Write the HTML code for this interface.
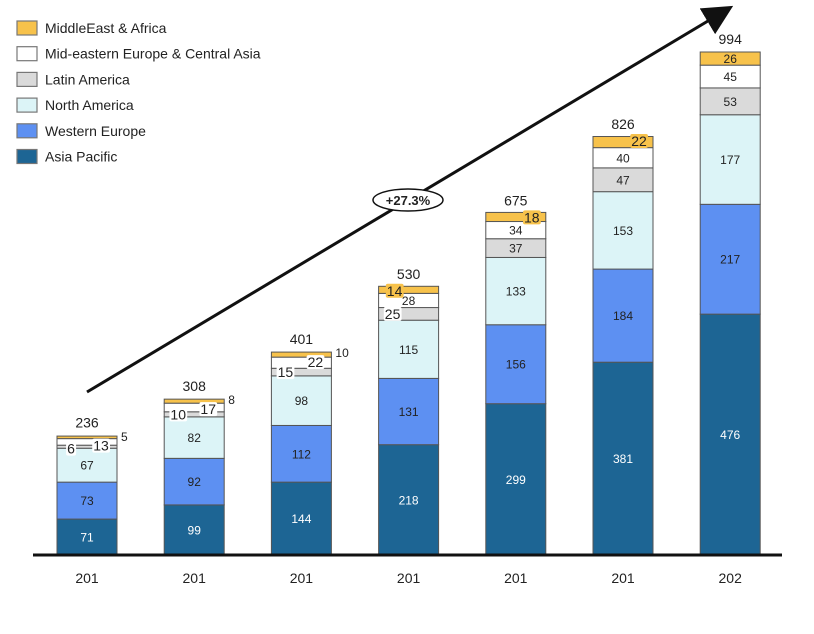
<!DOCTYPE html>
<html><head><meta charset="utf-8"><style>
body{margin:0;background:#fff;}
svg{display:block;font-family:"Liberation Sans",Arial,sans-serif;}
</style></head><body>
<svg id="chart" width="814" height="634" viewBox="0 0 814 634">
<defs><marker id="ah" markerWidth="10" markerHeight="10" refX="8" refY="5" orient="auto"><path d="M0,0 L10,5 L0,10 z" fill="#111"/></marker></defs>
<g id="legend"></g>
<line x1="87" y1="392" x2="728" y2="9" stroke="#111" stroke-width="3" marker-end="url(#ah)"/>
<g>
<ellipse cx="408" cy="200" rx="35" ry="11" fill="#fff" stroke="#111" stroke-width="1.5"/>
<text x="408" y="205" text-anchor="middle" font-size="13" font-weight="bold" fill="#222">+27.3%</text>
</g>
<g id="bars"></g>
<line x1="33" y1="555" x2="782" y2="555" stroke="#111" stroke-width="3"/>
<g id="xlabels"></g>
</svg>
<script>
const categories = ["201","201","201","201","201","201","202"];
const seriesNames = ["Asia Pacific","Western Europe","North America","Latin America","Mid-eastern Europe & Central Asia","MiddleEast & Africa"];
const asiaPacific = [71,99,144,218,299,381,476];
const westernEurope = [73,92,112,131,156,184,217];
const northAmerica = [67,82,98,115,133,153,177];
const latinAmerica = [6,10,15,25,37,47,53];
const midEastEurope = [13,17,22,28,34,40,45];
const middleEastAfrica = [5,8,10,14,18,22,26];
const totals = [236,308,401,530,675,826,994];

const series = [asiaPacific,westernEurope,northAmerica,latinAmerica,midEastEurope,middleEastAfrica];
const colors = ["#1d6594","#5d90f2","#dcf4f7","#dadada","#ffffff","#f7c24b"];
const textColors = ["#fff","#222","#222","#222","#222","#222"];
const NS="http://www.w3.org/2000/svg";
const baseY=555, pxPerUnit=503/994, x0=57, step=107.2, bw=60;
function yScale(v){return baseY - v*pxPerUnit;}
function xScale(i){return x0 + i*step;}
function mk(tag,attrs,parent){const e=document.createElementNS(NS,tag);for(const k in attrs)e.setAttribute(k,attrs[k]);parent.appendChild(e);return e;}

const legend=document.getElementById('legend');
for(let s=5;s>=0;s--){
  const r=5-s, cy=28+r*25.7;
  const g=mk('g',{},legend);
  
  
  mk('rect',{x:17,y:cy-7,width:20,height:14,fill:colors[s],stroke:"#777","stroke-width":1.2},g);
  const t=mk('text',{x:45,y:cy+5,"font-size":14,fill:"#222"},g);t.textContent=seriesNames[s];
}

const bars=document.getElementById('bars');
const xl=document.getElementById('xlabels');
categories.forEach((c,i)=>{
  const g=mk('g',{},bars);
  
  
  let cum=0; const x=xScale(i);
  const labels=[];
  const top=yScale(totals[i]);
  series.forEach((arr,s)=>{
    const v=arr[i]; const y1=yScale(cum), y2=yScale(cum+v); cum+=v;
    const r=mk('rect',{x:x,y:y2,width:bw,height:y1-y2,fill:colors[s],stroke:"#555","stroke-width":1},g);
    
    
    const h=y1-y2; let tx=x+bw/2, ty=(y1+y2)/2+4.5, anchor='middle', fs=12, bg=null;
    if(s===5){
      if(i<3){tx=x+bw+4;ty=y2+5;anchor='start';}
      else if(i<6){tx=(i===3)?x+16:x+bw-14;ty=top+9;bg='#f7c24b';fs=14;}
    } else if(h<13.5){
      if(s===3){tx=x+14;ty=Math.max(top+18,(y1+y2)/2+5);bg='#fff';fs=14;}
      else if(s===4){tx=x+bw-16;ty=top+15;bg='#fff';fs=14;}
    }
    labels.push({tx,ty,anchor,fs,bg,s,v});
  });
  labels.forEach(L=>{
    const t=mk('text',{x:L.tx,y:L.ty,"text-anchor":L.anchor,"font-size":L.fs,fill:textColors[L.s]},g);
    t.textContent=L.v;
    if(L.bg){
      const b=t.getBBox();
      const br=mk('rect',{x:b.x-1,y:b.y+1,width:b.width+2,height:b.height-2,fill:L.bg,rx:2},g);
      g.insertBefore(br,t);
    }
  });
  const tt=mk('text',{x:x+bw/2,y:top-8,"text-anchor":"middle","font-size":14,fill:"#222"},g);
  
  
  tt.textContent=totals[i];
  const l=mk('text',{x:x+bw/2,y:583,"text-anchor":"middle","font-size":14,fill:"#222"},xl);
  
  
  l.textContent=c;
});
</script>
</body></html>
